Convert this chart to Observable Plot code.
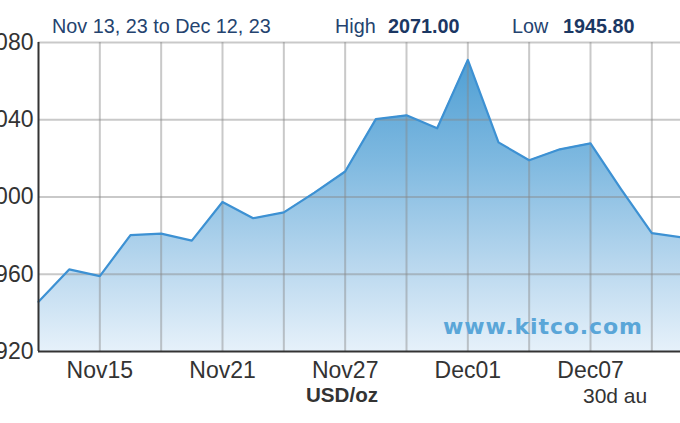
<!DOCTYPE html>
<html>
<head>
<meta charset="utf-8">
<script src="https://cdn.jsdelivr.net/npm/d3@7"></script>
<script src="https://cdn.jsdelivr.net/npm/@observablehq/plot@0.6"></script>
<style>
  html, body { margin: 0; padding: 0; background: #fff; }
  #wrap { position: relative; width: 680px; height: 423px; overflow: hidden; background: #fff;
          font-family: "Liberation Sans", Arial, sans-serif; }
  #chart { position: absolute; left: -20px; top: 30px; width: 720px; }
  #chart svg { max-width: none; }
  .t { position: absolute; white-space: pre; line-height: 1; }
  .hdr { font-size: 19.8px; top: 17px; color: #24436f; }
  .hdr b { color: #1b3763; }
  .ftr { font-size: 21px; top: 385px; color: #333; }
  #wm { position: absolute; left: 443px; top: 316px; font-family: "DejaVu Sans", sans-serif; font-weight: bold;
        font-size: 22px; letter-spacing: 0.9px; color: #5aa6d8; line-height: 1; white-space: pre; }
</style>
</head>
<body>
<div id="wrap">
  <div id="chart"></div>
  <span class="t hdr" style="left:52px">Nov 13, 23 to Dec 12, 23</span>
  <span class="t hdr" style="left:335px">High</span>
  <span class="t hdr" style="left:388px"><b>2071.00</b></span>
  <span class="t hdr" style="left:512px">Low</span>
  <span class="t hdr" style="left:563px"><b>1945.80</b></span>
  <span id="wm">www.kitco.com</span>
  <span class="t ftr" style="left:306px;font-weight:bold;font-size:20.6px">USD/oz</span>
  <span class="t ftr" style="left:583px">30d au</span>
</div>
<script>
// Trading days (Nov 13 – Dec 12, 2023) and gold price USD/oz
const dates = ["Nov13","Nov14","Nov15","Nov16","Nov17","Nov20","Nov21","Nov22","Nov23","Nov24",
               "Nov27","Nov28","Nov29","Nov30","Dec01","Dec04","Dec05","Dec06","Dec07","Dec08",
               "Dec11","Dec12"];
const prices = [1945.8, 1962.5, 1959.0, 1980.3, 1981.0, 1977.4, 1997.4, 1989.0, 1992.0, 2002.3,
                2013.2, 2040.3, 2042.3, 2035.6, 2071.0, 2028.3, 2019.0, 2024.7, 2027.8, 2004.0,
                1981.3, 1979.0];
const yTicks = [1920, 1960, 2000, 2040, 2080];
const xTickLabels = ["Nov15", "Nov21", "Nov27", "Dec01", "Dec07"];

const data = dates.map((d, i) => ({i, date: d, price: prices[i]}));
const xTickIdx = xTickLabels.map(l => dates.indexOf(l));
const gridIdx = dates.map((d, i) => i).filter(i => i > 0 && i % 2 === 0);

const gradient = () => {
  const defs = document.createElementNS("http://www.w3.org/2000/svg", "defs");
  defs.innerHTML = `<linearGradient id="kgrad" x1="0" y1="0" x2="0" y2="1">
      <stop offset="0" stop-color="#4f9fd4"/>
      <stop offset="0.35" stop-color="#7fb9e0"/>
      <stop offset="0.7" stop-color="#b8d7ee"/>
      <stop offset="1" stop-color="#e6f1fa"/>
    </linearGradient>`;
  return defs;
};

const chart = Plot.plot({
  width: 720,
  height: 356,
  marginLeft: 58,
  marginRight: 18,
  marginTop: 12,
  marginBottom: 35,
  style: {
    background: "transparent",
    fontFamily: '"Liberation Sans", Arial, sans-serif',
    fontSize: "23px",
    color: "#333",
    overflow: "visible"
  },
  x: {domain: [0, dates.length - 1], axis: null},
  y: {domain: [yTicks[0], yTicks[yTicks.length - 1]], axis: null},
  marks: [
    gradient,
    Plot.areaY(data, {x: "i", y1: yTicks[0], y2: "price", fill: "url(#kgrad)"}),
    Plot.gridX(gridIdx, {stroke: "#888", strokeOpacity: 0.45, strokeWidth: 2}),
    Plot.gridY(yTicks.slice(1), {stroke: "#888", strokeOpacity: 0.45, strokeWidth: 2}),
    Plot.lineY(data, {x: "i", y: "price", stroke: "#3d91d3", strokeWidth: 2.2}),
    Plot.ruleX([0], {stroke: "#333", strokeWidth: 2}),
    Plot.ruleY([yTicks[0]], {stroke: "#333", strokeWidth: 2}),
    Plot.axisY(yTicks, {tickSize: 0, tickPadding: 5, tickFormat: d => String(d), label: null}),
    Plot.axisX(xTickIdx, {tickSize: 0, tickPadding: 10, tickFormat: i => dates[i], label: null})
  ]
});
document.getElementById("chart").appendChild(chart);
</script>
</body>
</html>
